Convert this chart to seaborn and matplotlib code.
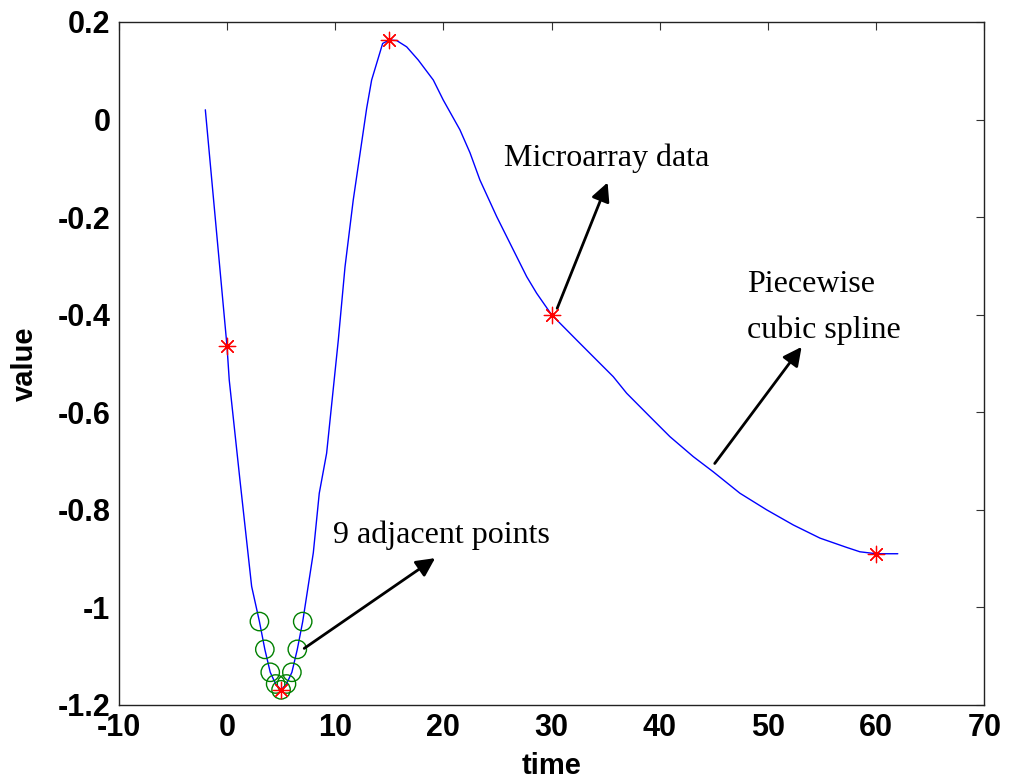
import numpy as np
import pandas as pd
import seaborn as sns
import matplotlib
matplotlib.use("Agg")
import matplotlib.pyplot as plt

# spline curve
curve_t = [-2.0, 0.0, 0.21, 1.2, 2.28, 3.0, 3.5, 4.0, 4.5, 5.0, 5.5, 6.0, 6.5, 7.0,
           7.98, 8.53, 9.21, 10.29, 10.91, 11.67, 12.91, 13.37, 14.39, 15.0, 15.68,
           16.61, 17.68, 19.07, 19.99, 21.53, 22.46, 23.38, 24.93, 26.46, 27.7, 28.62,
           30.0, 32.32, 33.85, 35.7, 36.94, 39.09, 40.94, 43.1, 44.94, 47.41, 49.88,
           52.34, 54.81, 57.27, 58.5, 60.0, 62.0]
curve_v = [0.02, -0.464, -0.534, -0.739, -0.957, -1.029, -1.086, -1.133, -1.157, -1.169,
           -1.157, -1.133, -1.086, -1.029, -0.888, -0.766, -0.684, -0.452, -0.302, -0.165,
           0.023, 0.081, 0.156, 0.163, 0.162, 0.149, 0.122, 0.081, 0.040, -0.021, -0.068,
           -0.124, -0.199, -0.267, -0.322, -0.356, -0.40, -0.452, -0.486, -0.527, -0.561,
           -0.609, -0.650, -0.691, -0.722, -0.766, -0.800, -0.831, -0.858, -0.877, -0.886,
           -0.890, -0.890]

# microarray measurements (red stars)
micro_t = [0, 5, 15, 30, 60]
micro_v = [-0.465, -1.169, 0.163, -0.40, -0.890]

# 9 adjacent points (green circles)
adj_t = [3, 3.5, 4, 4.5, 5, 5.5, 6, 6.5, 7]
adj_v = [-1.029, -1.086, -1.133, -1.157, -1.169, -1.157, -1.133, -1.086, -1.029]

sns.set_style("white")
plt.rcParams['font.family'] = ['Liberation Sans', 'DejaVu Sans']
plt.rcParams['axes.unicode_minus'] = False
plt.rcParams['text.color'] = 'black'
plt.rcParams['axes.labelcolor'] = 'black'
plt.rcParams['xtick.color'] = 'black'
plt.rcParams['ytick.color'] = 'black'

fig = plt.figure(figsize=(10.1, 7.82), dpi=100)
ax = fig.add_axes([0.1176, 0.0985, 0.857, 0.8734])

sns.lineplot(x=curve_t, y=curve_v, color=(0, 0, 1), linewidth=1.0, sort=False,
             estimator=None, ax=ax, zorder=2)
sns.scatterplot(x=adj_t, y=adj_v, marker='o', s=175, facecolor='none',
                edgecolor=(0, 0.5, 0), linewidth=1.0, ax=ax, zorder=3)
sns.scatterplot(x=micro_t, y=micro_v, marker=(8, 2, 0), s=140, color='red',
                edgecolor='red', linewidth=0.9, ax=ax, zorder=4)

ax.set_xlim(-10, 70)
ax.set_ylim(-1.2, 0.2)
ax.set_xticks(np.arange(-10, 71, 10))
ax.set_yticks([-1.2, -1, -0.8, -0.6, -0.4, -0.2, 0, 0.2])
ax.set_yticklabels(['-1.2', '-1', '-0.8', '-0.6', '-0.4', '-0.2', '0', '0.2'])
ax.tick_params(direction='in', length=6, width=0.8, color='#333333',
               labelcolor='black', top=True, right=True, labelsize=22, pad=6)
for lab in ax.get_xticklabels() + ax.get_yticklabels():
    lab.set_fontweight('bold')
for sp in ax.spines.values():
    sp.set_linewidth(1.0)
    sp.set_color('#222222')

ax.set_xlabel('time', fontsize=21, fontweight='bold', labelpad=6)
ax.set_ylabel('value', fontsize=21, fontweight='bold', labelpad=13)

serif = dict(fontsize=23, family=['Liberation Serif', 'DejaVu Serif'])
arrow = dict(arrowstyle='-|>', mutation_scale=28, lw=2.0, color='black',
             shrinkA=0, shrinkB=0)

ax.text(25.6, -0.095, 'Microarray data', va='baseline', ha='left', **serif)
ax.annotate('', xy=(35.18, -0.129), xytext=(30.52, -0.387), arrowprops=arrow)

ax.text(48.06, -0.353, 'Piecewise', va='baseline', ha='left', **serif)
ax.text(48.06, -0.448, 'cubic spline', va='baseline', ha='left', **serif)
ax.annotate('', xy=(53.11, -0.466), xytext=(45.08, -0.705), arrowprops=arrow)

ax.text(9.82, -0.868, '9 adjacent points', va='baseline', ha='left', **serif)
ax.annotate('', xy=(19.24, -0.899), xytext=(7.14, -1.084), arrowprops=arrow)

fig.savefig('out.png', dpi=100)
